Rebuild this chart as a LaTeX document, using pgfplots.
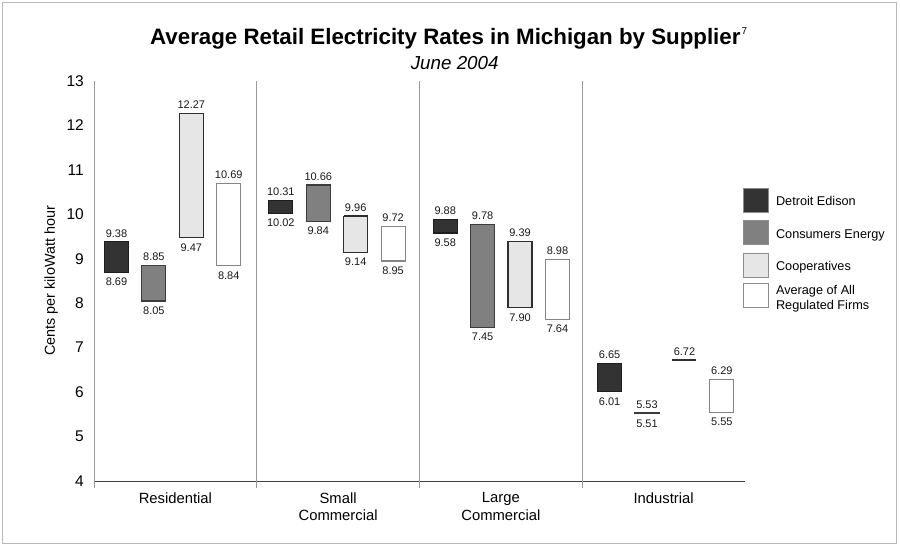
\documentclass[border=0pt]{standalone}
\usepackage{pgfplots}
\usepackage{pgfplotstable}
\pgfplotsset{compat=1.18}
\usepackage{fontspec}
\setmainfont{Liberation Sans}
\definecolor{cDE}{HTML}{333333}
\definecolor{cCE}{HTML}{808080}
\definecolor{cCO}{HTML}{E6E6E6}
\definecolor{cAV}{HTML}{FFFFFF}
\definecolor{bDE}{HTML}{1E1E1E}
\definecolor{bCE}{HTML}{3C3C3C}
\definecolor{bCO}{HTML}{2E2E2E}
\definecolor{bAV}{HTML}{858585}
\definecolor{bLG}{HTML}{8C8C8C}
\pgfplotstableread{
group lo1 hi1 lo2 hi2 lo3 hi3 lo4 hi4 lab3
Res 8.69 9.38 8.05 8.85 9.47 12.27 8.84 10.69 9.47
SC 10.02 10.31 9.84 10.66 9.14 9.96 8.95 9.72 9.14
LC 9.58 9.88 7.45 9.78 7.90 9.39 7.64 8.98 7.90
Ind 6.01 6.65 5.51 5.53 6.72 6.72 5.55 6.29 {}
}\data
\begin{document}
\begin{tikzpicture}
\useasboundingbox (-94bp,-66bp) rectangle (806bp,481bp);
\draw[color=black!28, line width=1.5bp] (-91.3bp,478.3bp) rectangle (802.7bp,-62.3bp);
\node[anchor=base west, inner sep=0pt, font=\fontsize{22.3bp}{26bp}\selectfont\bfseries] at (56bp,436bp) {Average Retail Electricity Rates in Michigan by Supplier\kern1bp\raisebox{10bp}{\fontsize{10bp}{10bp}\selectfont\mdseries 7}};
\node[anchor=base, inner sep=0pt, font=\fontsize{18.8bp}{22bp}\selectfont\itshape] at (360.7bp,411bp) {June 2004};
\begin{axis}[
  at={(0,0)}, anchor=south west,
  scale only axis, width=651bp, height=400bp,
  xmin=0, xmax=4, ymin=4, ymax=13,
  axis x line*=bottom, axis y line*=left,
  x axis line style={draw=black!75, line width=1bp, -},
  y axis line style={draw=black!35, line width=1bp, -},
  ytick={4,5,6,7,8,9,10,11,12,13},
  major tick length=0pt,
  xtick={0.5,1.5,2.5,3.5},
  xticklabels={Residential,{Small\\Commercial},{Large\\Commercial},Industrial},
  xticklabel style={anchor=north, inner sep=0pt, yshift=-11.5bp, align=center, font=\fontsize{14.8bp}{17.5bp}\selectfont},
  yticklabel style={anchor=east, inner sep=0pt, xshift=-10bp, font=\fontsize{15.5bp}{17bp}\selectfont},
  /pgf/number format/assume math mode=true,
  extra x ticks={0,1,2,3},
  extra x tick labels={},
  extra x tick style={major tick length=7bp, tick align=outside, grid=major, major grid style={draw=black!40, line width=0.8bp}, major tick style={draw=black!40, line width=0.8bp}},
  ylabel={Cents per kiloWatt hour},
  ylabel style={at={(axis description cs:-0.066,0.5)}, anchor=center, font=\fontsize{14.4bp}{16bp}\selectfont},
  ybar stacked, stack negative=on previous, bar width=0.1475,
]
\addplot[draw=none, fill=none] table[x expr=\coordindex*1.01+0.138, y=lo1] {\data};
\addplot[fill=cDE, draw=bDE, line width=1.2bp] table[x expr=\coordindex*1.01+0.138, y expr=\thisrow{hi1}-\thisrow{lo1}] {\data};
\addplot[draw=none, fill=none] table[x expr=\coordindex*1.01+0.368, y expr=\thisrow{lo2}-\thisrow{hi1}] {\data};
\addplot[fill=cCE, draw=bCE, line width=1.2bp] table[x expr=\coordindex*1.01+0.368, y expr=\thisrow{hi2}-\thisrow{lo2}] {\data};
\addplot[draw=none, fill=none] table[x expr=\coordindex*1.01+0.598, y expr=\thisrow{lo3}-\thisrow{hi2}] {\data};
\addplot[fill=cCO, draw=bCO, line width=1.2bp] table[x expr=\coordindex*1.01+0.598, y expr=\thisrow{hi3}-\thisrow{lo3}] {\data};
\addplot[draw=none, fill=none] table[x expr=\coordindex*1.01+0.828, y expr=\thisrow{lo4}-\thisrow{hi3}] {\data};
\addplot[fill=cAV, draw=bAV, line width=1.2bp] table[x expr=\coordindex*1.01+0.828, y expr=\thisrow{hi4}-\thisrow{lo4}] {\data};
\end{axis}
\begin{axis}[
  at={(0,0)}, anchor=south west,
  scale only axis, width=651bp, height=400bp,
  xmin=0, xmax=4, ymin=4, ymax=13, hide axis, clip=false,
  every node near coord/.append style={font=\fontsize{11bp}{13bp}\selectfont, inner sep=0pt, text=black!90},
  hi/.style={draw=none, nodes near coords, point meta=explicit symbolic, every node near coord/.append style={anchor=south, yshift=4.5bp}},
  lo/.style={draw=none, nodes near coords, point meta=explicit symbolic, every node near coord/.append style={anchor=north, yshift=-5.5bp}},
  legend style={at={(axis description cs:0.997,0.7475)}, anchor=north west, draw=none, fill=none, inner sep=0pt, outer sep=0pt, row sep=1.9bp, column sep=7bp, font=\fontsize{12.7bp}{15bp}\selectfont, nodes={inner sep=0pt, align=left}},
  legend cell align=left,
]
\addlegendimage{legend image code/.code={\draw[fill=cDE, draw=bLG, line width=1bp] (0bp,-10.3bp) rectangle (25bp,13.7bp); \path (0bp,19.7bp);}}
\addlegendimage{legend image code/.code={\draw[fill=cCE, draw=bLG, line width=1bp] (0bp,-10.3bp) rectangle (25bp,13.7bp); \path (0bp,19.7bp);}}
\addlegendimage{legend image code/.code={\draw[fill=cCO, draw=bLG, line width=1bp] (0bp,-10.3bp) rectangle (25bp,13.7bp); \path (0bp,19.7bp);}}
\addlegendimage{legend image code/.code={\draw[fill=cAV, draw=bLG, line width=1bp] (0bp,-10.3bp) rectangle (25bp,13.7bp); \path (0bp,17.7bp);}}
\legend{Detroit Edison, Consumers Energy, Cooperatives, {Average of All\\Regulated Firms}}
\addplot[draw=none, mark=-, mark size=12bp, mark options={draw=bCO, line width=1.5bp}] table[x expr=\coordindex*1.01+0.598, y=hi3] {\data};
\addplot[hi] table[x expr=\coordindex*1.01+0.138, y=hi1, meta=hi1] {\data};
\addplot[lo] table[x expr=\coordindex*1.01+0.138, y=lo1, meta=lo1] {\data};
\addplot[hi] table[x expr=\coordindex*1.01+0.368, y=hi2, meta=hi2] {\data};
\addplot[lo] table[x expr=\coordindex*1.01+0.368, y=lo2, meta=lo2] {\data};
\addplot[hi] table[x expr=\coordindex*1.01+0.598, y=hi3, meta=hi3] {\data};
\addplot[lo] table[x expr=\coordindex*1.01+0.598, y=lo3, meta=lab3] {\data};
\addplot[hi] table[x expr=\coordindex*1.01+0.828, y=hi4, meta=hi4] {\data};
\addplot[lo] table[x expr=\coordindex*1.01+0.828, y=lo4, meta=lo4] {\data};
\end{axis}
\end{tikzpicture}
\end{document}
